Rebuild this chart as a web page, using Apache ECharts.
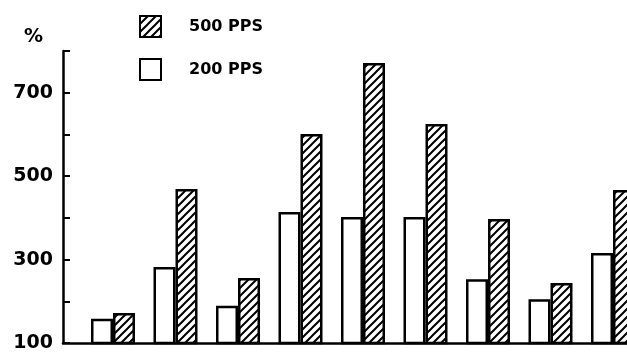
<!DOCTYPE html>
<html>
<head>
<meta charset="utf-8">
<script src="https://cdn.jsdelivr.net/npm/echarts@6/dist/echarts.min.js"></script>
<style>
html,body{margin:0;padding:0;background:#fff;}
#c{width:627px;height:353px;}
</style>
</head>
<body>
<div id="c"></div>
<script>
// Data
var groups = [1, 2, 3, 4, 5, 6, 7, 8, 9];
var pps200 = [158, 282, 189, 414, 402, 402, 253, 205, 316];
var pps500 = [172, 469, 256, 601, 771, 625, 397, 244, 467];
var yTickLabels = [100, 300, 500, 700];
var seriesNames = ['500 PPS', '200 PPS'];

function hatch() {
  var s = 8;
  var cv = document.createElement('canvas');
  cv.width = s; cv.height = s;
  var g = cv.getContext('2d');
  g.fillStyle = '#fff';
  g.fillRect(0, 0, s, s);
  g.strokeStyle = '#000';
  g.lineWidth = 2;
  g.beginPath();
  g.moveTo(-1, s + 1); g.lineTo(s + 1, -1);
  g.moveTo(-1, 1); g.lineTo(1, -1);
  g.moveTo(s - 1, s + 1); g.lineTo(s + 1, s - 1);
  g.stroke();
  return cv;
}

var chart = echarts.init(document.getElementById('c'), null, {renderer: 'canvas'});
var font = 'DejaVu Sans';
chart.setOption({
  animation: false,
  backgroundColor: '#fff',
  grid: {left: 63, right: 0, top: 51, bottom: 10, containLabel: false},
  legend: {
    data: seriesNames,
    orient: 'vertical',
    left: 134, top: 10,
    itemWidth: 21, itemHeight: 21, itemGap: 20,
    icon: 'rect',
    textStyle: {color: '#000', fontFamily: font, fontWeight: 'bold', fontSize: 16, padding: [0, 0, 0, 23]}
  },
  xAxis: {
    type: 'value',
    min: 0.2, max: 9.224,
    axisLine: {show: true, onZero: false, lineStyle: {color: '#000', width: 2.5}},
    axisTick: {show: false},
    axisLabel: {show: false},
    splitLine: {show: false}
  },
  yAxis: {
    type: 'value',
    min: 100, max: 800, interval: 100,
    name: '%',
    nameLocation: 'end',
    nameGap: 4,
    nameTextStyle: {color: '#000', fontFamily: font, fontWeight: 'bold', fontSize: 19, align: 'right', padding: [0, 20, 0, 0]},
    axisLine: {show: true, lineStyle: {color: '#000', width: 2.5}},
    axisTick: {show: true, inside: true, length: 7, lineStyle: {color: '#000', width: 2}},
    axisLabel: {
      color: '#000', fontFamily: font, fontWeight: 'bold', fontSize: 19, margin: 10,
      formatter: function (v) { return yTickLabels.indexOf(v) >= 0 ? String(v) : ''; }
    },
    splitLine: {show: false}
  },
  series: [
    {
      name: '200 PPS', type: 'bar', barWidth: 22, barGap: '0%',
      data: groups.map(function (g, i) { return [g, pps200[i]]; }),
      itemStyle: {color: '#fff', borderColor: '#000', borderWidth: 2.5}
    },
    {
      name: '500 PPS', type: 'bar', barWidth: 22, barGap: '0%',
      data: groups.map(function (g, i) { return [g, pps500[i]]; }),
      itemStyle: {color: {image: hatch(), repeat: 'repeat'}, borderColor: '#000', borderWidth: 2.5}
    }
  ]
});
</script>
</body>
</html>
